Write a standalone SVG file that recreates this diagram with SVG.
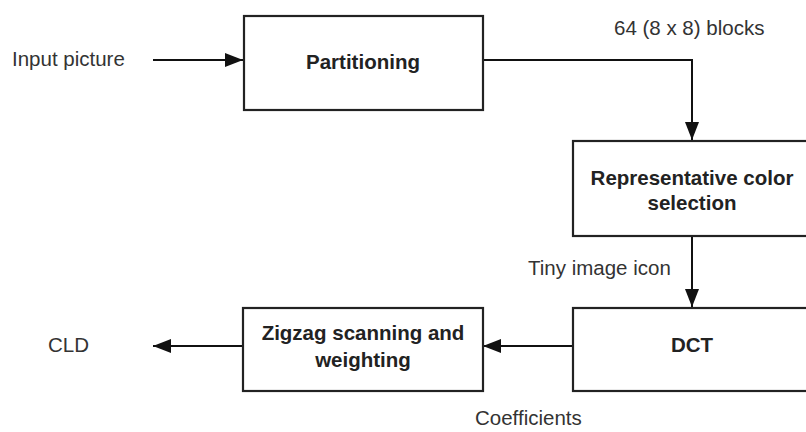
<svg xmlns="http://www.w3.org/2000/svg" width="806" height="432" viewBox="0 0 806 432">
<style>
.box{fill:#fff;stroke:#222;stroke-width:2.2}
.lbl{font-family:"Liberation Sans",Arial,sans-serif;font-size:20.5px;fill:#333}
.bt{font-family:"Liberation Sans",Arial,sans-serif;font-size:20.5px;font-weight:bold;fill:#222;text-anchor:middle}
.con{fill:none;stroke:#111;stroke-width:2;marker-end:url(#ah)}
</style>
<defs>
<marker id="ah" viewBox="0 0 18 14" refX="18" refY="7" markerWidth="18" markerHeight="14" markerUnits="userSpaceOnUse" orient="auto">
<path d="M0,0 L18,7 L0,14 Z" fill="#111"/>
</marker>
</defs>
<rect width="806" height="432" fill="#fff"/>
<g id="connectors">
<path class="con" d="M153,60 H243"/>
<path class="con" d="M483,60 H692 V140"/>
<path class="con" d="M692,236 V307"/>
<path class="con" d="M572,346 H483"/>
<path class="con" d="M243,346 H153"/>
</g>
<g id="partitioning">
<rect class="box" x="244" y="16" width="239" height="94"/>
<text class="bt" x="363" y="69">Partitioning</text>
</g>
<g id="representative">
<rect class="box" x="573" y="141" width="240" height="95"/>
<text class="bt" x="692" y="185">Representative color</text>
<text class="bt" x="692" y="210">selection</text>
</g>
<g id="dct">
<rect class="box" x="573" y="308" width="240" height="83"/>
<text class="bt" x="692" y="352">DCT</text>
</g>
<g id="zigzag">
<rect class="box" x="243" y="308" width="240" height="83"/>
<text class="bt" x="363" y="340">Zigzag scanning and</text>
<text class="bt" x="363" y="367">weighting</text>
</g>
<g id="labels">
<text class="lbl" x="12" y="66">Input picture</text>
<text class="lbl" x="614" y="35">64 (8 x 8) blocks</text>
<text class="lbl" x="528" y="275">Tiny image icon</text>
<text class="lbl" x="48" y="352">CLD</text>
<text class="lbl" x="475" y="425">Coefficients</text>
</g>
</svg>
